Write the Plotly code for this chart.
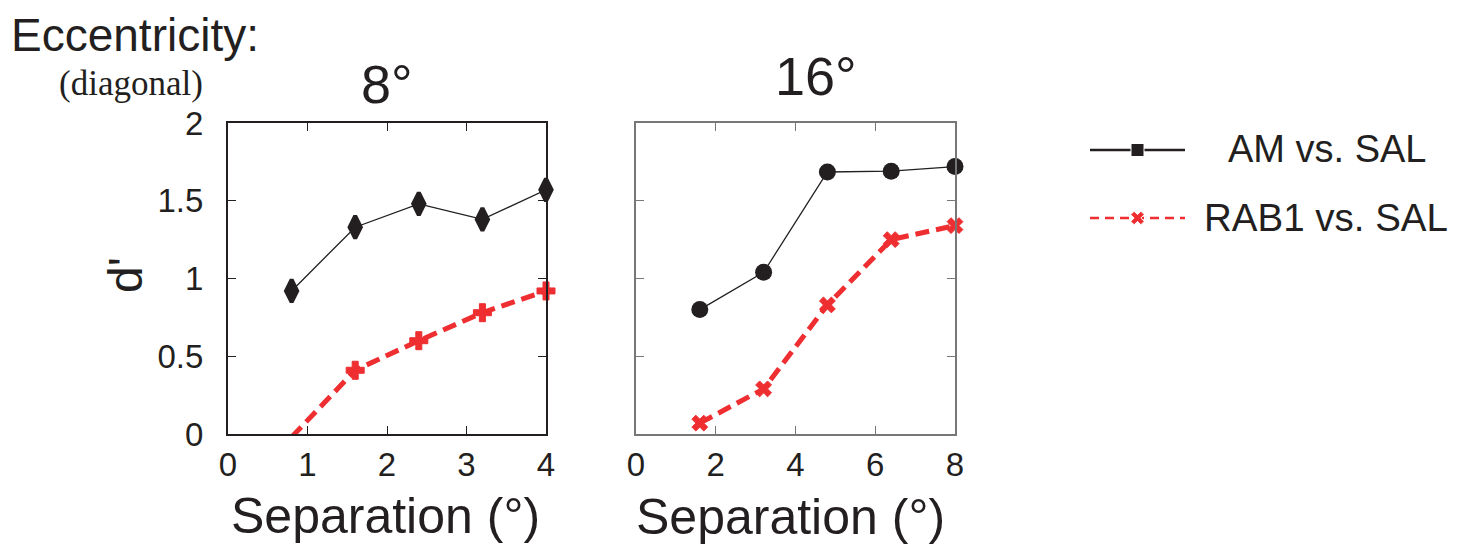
import plotly.graph_objects as go

# ---- data ----
sep_8 = [0.8, 1.6, 2.4, 3.2, 4.0]
am_8 = [0.92, 1.33, 1.48, 1.38, 1.57]
rab1_8 = [-0.02, 0.41, 0.60, 0.78, 0.92]

sep_16 = [1.6, 3.2, 4.8, 6.4, 8.0]
am_16 = [0.80, 1.04, 1.685, 1.69, 1.72]
rab1_16 = [0.07, 0.29, 0.83, 1.25, 1.34]

panel_titles = ["8°", "16°"]
y_ticks = [0, 0.5, 1, 1.5, 2]
y_tick_text = ["0", "0.5", "1", "1.5", "2"]
x_ticks_8 = [0, 1, 2, 3, 4]
x_ticks_16 = [0, 2, 4, 6, 8]
series_names = ["AM vs. SAL", "RAB1 vs. SAL"]

BLACK = "#231f20"
RED = "#ee2e30"
GREY = "#777777"
FONT = "Liberation Sans, Arial, sans-serif"
SERIF = "Liberation Serif, Times New Roman, serif"

# page body has an 8px margin; size the figure to fit the 1458x553 window
OFF = 8
W, H = 1458 - 2 * OFF, 553 - 2 * OFF
def px(x):
    return (x - OFF) / W
def py(y):
    return 1 - (y - OFF) / H

fig = go.Figure()

# panel 1
fig.add_trace(go.Scatter(x=sep_8, y=am_8, mode="lines+markers", xaxis="x", yaxis="y",
                         line=dict(color=BLACK, width=1.3),
                         marker=dict(symbol="diamond-tall", size=16, color=BLACK, opacity=1,
                                     line=dict(color=BLACK, width=4)),
                         cliponaxis=False, showlegend=False))
fig.add_trace(go.Scatter(x=sep_8, y=rab1_8, mode="lines+markers", xaxis="x", yaxis="y",
                         line=dict(color=RED, width=5, dash="14px,7px"),
                         marker=dict(symbol="cross", size=[0, 15, 15, 15, 15], color=RED, opacity=1,
                                     line=dict(color=RED, width=1)),
                         cliponaxis=False, showlegend=False))
# panel 2
fig.add_trace(go.Scatter(x=sep_16, y=am_16, mode="lines+markers", xaxis="x2", yaxis="y2",
                         line=dict(color=BLACK, width=1.3),
                         marker=dict(symbol="circle", size=17, color=BLACK, opacity=1),
                         cliponaxis=False, showlegend=False))
fig.add_trace(go.Scatter(x=sep_16, y=rab1_16, mode="lines+markers", xaxis="x2", yaxis="y2",
                         line=dict(color=RED, width=5, dash="14px,7px"),
                         marker=dict(symbol="x", size=14, color=RED, opacity=1,
                                     line=dict(color=RED, width=1)),
                         cliponaxis=False, showlegend=False))

# legend samples on a hidden axis
fig.add_trace(go.Scatter(x=[0, 0.5, 1], y=[1, 1, 1], mode="lines+markers", xaxis="x3", yaxis="y3",
                         line=dict(color=BLACK, width=2.5),
                         marker=dict(symbol="square", size=[0, 13, 0], color=BLACK, opacity=1),
                         showlegend=False, hoverinfo="skip"))
fig.add_trace(go.Scatter(x=[0, 0.5, 1], y=[0, 0, 0], mode="lines+markers", xaxis="x3", yaxis="y3",
                         line=dict(color=RED, width=2.5, dash="9px,6px"),
                         marker=dict(symbol="x", size=[0, 12, 0], color=RED, opacity=1),
                         showlegend=False, hoverinfo="skip"))

ydom = [py(434), py(123)]
axis_common = dict(ticks="inside", ticklen=8, showgrid=False, zeroline=False,
                   showline=True, mirror="ticks", linewidth=2, automargin=False,
                   tickfont=dict(family=FONT, size=33, color=BLACK))

fig.update_layout(
    width=W, height=H,
    margin=dict(l=0, r=0, t=0, b=0, autoexpand=False),
    paper_bgcolor="white", plot_bgcolor="white",
    xaxis=dict(domain=[px(228), px(546)], range=[0, 4], tickvals=x_ticks_8,
               linecolor=BLACK, tickcolor=BLACK, anchor="y", ticklabelstandoff=0, **axis_common),
    yaxis=dict(domain=ydom, range=[0, 2], tickvals=y_ticks, ticktext=y_tick_text,
               linecolor=BLACK, tickcolor=BLACK, anchor="x", ticklabelstandoff=16, **axis_common),
    xaxis2=dict(domain=[px(636), px(955)], range=[0, 8], tickvals=x_ticks_16,
                linecolor=GREY, tickcolor=GREY, anchor="y2", ticklabelstandoff=0, **axis_common),
    yaxis2=dict(domain=ydom, range=[0, 2], tickvals=y_ticks, showticklabels=False,
                linecolor=GREY, tickcolor=GREY, anchor="x2", **axis_common),
    xaxis3=dict(domain=[px(1090), px(1185)], range=[0, 1], visible=False, anchor="y3"),
    yaxis3=dict(domain=[py(218 + 34), py(150 - 34)], range=[-0.5, 1.5], visible=False, anchor="x3"),
)

ann = []
def add_text(text, x, y, size, xanchor="center", family=FONT, angle=0):
    ann.append(dict(text=text, x=px(x), y=py(y), xref="paper", yref="paper",
                    xanchor=xanchor, yanchor="middle", showarrow=False, textangle=angle,
                    font=dict(family=family, size=size, color=BLACK)))

add_text("Eccentricity:", 9, 34.5, 46, xanchor="left")
add_text("(diagonal)", 57, 83, 35, xanchor="left", family=SERIF)
add_text(panel_titles[0], 387, 84, 54)
add_text(panel_titles[1], 816, 76, 54)
add_text("d'", 125, 275, 48, angle=-90)
add_text("Separation (°)", 385, 516, 50)
add_text("Separation (°)", 790, 517, 50)
add_text(series_names[0], 1226, 149, 38, xanchor="left")
add_text(series_names[1], 1202, 217, 38.5, xanchor="left")
fig.update_layout(annotations=ann)

fig.write_html("out.html")
